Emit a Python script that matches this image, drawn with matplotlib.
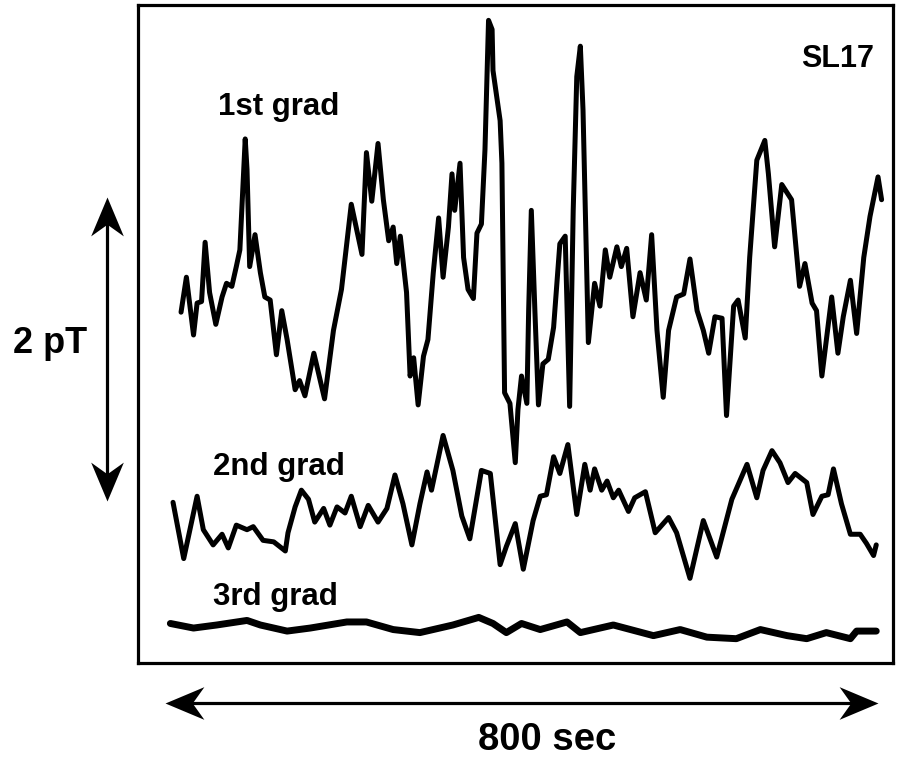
import matplotlib
matplotlib.use("Agg")
import matplotlib.pyplot as plt
from matplotlib.path import Path
from matplotlib.markers import MarkerStyle
from matplotlib.transforms import Affine2D

plt.rcParams['font.family'] = ['Liberation Sans', 'DejaVu Sans']

# ---- data: time (s) and field (pT) for the three gradiometer traces ----
t1 = [18,24,32,36,41,45,50,57,64,69,75,80,84,90,92,95,101,107,112,118,
      125,131,137,146,151,157,167,179,189,198,209,221,226,232,239,245,251,256,260,264,
      271,275,279,284,290,295,301,307,312,318,322,325,331,335,340,346,350,355,359,363,
      367,368,376,378,381,387,393,396,400,406,408,411,415,419,424,430,436,443,449,454,
      458,462,466,469,475,482,488,494,499,507,512,518,525,533,540,546,552,559,565,574,
      582,589,597,604,610,617,625,630,638,643,651,656,664,673,677,684,692,703,712,718,
      726,731,737,748,755,761,769,776,784,791,800,804]
g1 = [-0.08,0.15,-0.23,-0.02,-0.01,0.38,0.05,-0.16,0.02,0.11,
      0.09,0.22,0.33,1.06,0.86,0.22,0.43,0.18,0.02,0.00,
      -0.36,-0.07,-0.26,-0.59,-0.53,-0.63,-0.35,-0.65,-0.20,0.07,
      0.63,0.30,0.97,0.65,1.03,0.66,0.39,0.48,0.24,0.42,
      0.05,-0.50,-0.38,-0.69,-0.37,-0.26,0.18,0.54,0.15,0.48,
      0.83,0.59,0.90,0.28,0.07,0.01,0.44,0.50,0.99,1.84,
      1.78,1.51,1.18,0.90,-0.61,-0.68,-1.07,-0.72,-0.50,-0.68,
      -0.07,0.59,-0.07,-0.69,-0.42,-0.39,-0.18,0.37,0.42,-0.70,
      0.59,1.47,1.67,1.25,-0.28,0.11,-0.04,0.33,0.15,0.35,
      0.22,0.34,-0.11,0.18,0.00,0.43,-0.20,-0.64,-0.20,0.02,
      0.04,0.27,-0.07,-0.20,-0.35,-0.11,-0.12,-0.76,-0.04,0.00,
      -0.25,0.28,0.92,1.05,0.83,0.35,0.76,0.66,0.09,0.24,
      -0.02,-0.07,-0.50,0.02,-0.35,-0.11,0.13,-0.22,0.28,0.55,
      0.81,0.66]

t2 = [9,21,36,43,54,64,71,80,92,99,110,122,135,138,146,153,161,168,178,185,
      193,202,209,219,228,239,249,258,267,277,286,294,299,312,323,333,342,355,365,376,
      383,393,402,413,421,428,436,443,452,462,471,477,482,490,496,503,509,520,527,539,
      550,565,574,589,604,619,636,653,664,671,681,690,699,707,720,727,737,744,750,759,
      769,780,787,795,798]
g2 = [0.05,-0.32,0.09,-0.13,-0.23,-0.16,-0.25,-0.10,-0.13,-0.11,
      -0.20,-0.21,-0.27,-0.15,0.02,0.13,0.07,-0.08,0.01,-0.10,
      0.02,-0.02,0.09,-0.11,0.03,-0.08,0.01,0.23,0.04,-0.23,
      0.04,0.25,0.13,0.49,0.26,-0.04,-0.19,0.26,0.24,-0.36,
      -0.24,-0.09,-0.39,-0.07,0.09,0.10,0.35,0.24,0.43,-0.03,
      0.30,0.13,0.27,0.13,0.19,0.08,0.13,-0.01,0.08,0.12,
      -0.15,-0.05,-0.15,-0.45,-0.07,-0.31,0.07,0.30,0.08,0.26,
      0.39,0.31,0.18,0.24,0.18,-0.03,0.09,0.10,0.27,0.04,
      -0.16,-0.16,-0.22,-0.30,-0.23]

t3 = [6,32,58,92,107,137,163,204,226,256,286,323,352,368,383,400,421,451,466,503,
      548,578,608,641,668,698,720,742,769,776,798]
g3 = [0.03,0.00,0.02,0.05,0.02,-0.02,0.00,0.04,0.04,-0.01,
      -0.03,0.02,0.07,0.03,-0.03,0.03,-0.01,0.04,-0.03,0.02,
      -0.05,-0.01,-0.06,-0.07,-0.01,-0.05,-0.07,-0.03,-0.07,-0.02,-0.02]

labels = ["1st grad", "2nd grad", "3rd grad"]
channel = "SL17"
scale_field = 2      # pT
scale_time = 800     # s

# ---- layout ----
offsets = [2.388, 1.007, 0.230]          # vertical trace offsets (pT)
label_pos = [(59, 3.605), (54, 1.237), (54, 0.382)]

fig = plt.figure(figsize=(8.99, 7.57), dpi=100)
ax = fig.add_axes([138/899, 1 - 663/757, (893-138)/899, (663-5)/757])
ax.set_xlim(-30.3, 816.8)
ax.set_ylim(0, 4.329)
ax.set_xticks([]); ax.set_yticks([])
for s in ax.spines.values():
    s.set_linewidth(2.3)
    s.set_color('black')

for t, g, off, lw in zip([t1, t2, t3], [g1, g2, g3], offsets, [3.6, 3.6, 5.0]):
    ax.plot(t, [v + off for v in g], color='black', lw=lw,
            solid_joinstyle='round', solid_capstyle='round')

for lab, (x, y) in zip(labels, label_pos):
    ax.text(x, y, lab, fontsize=22.5, fontweight='bold', ha='left', va='baseline')
ax.text(796, 3.923, channel, fontsize=22, fontweight='bold', ha='right', va='baseline')

# arrowhead marker (tip at origin, pointing +y)
head = Path([(0, 0), (-0.42, -1.0), (0, -0.70), (0.42, -1.0), (0, 0)],
            [Path.MOVETO, Path.LINETO, Path.LINETO, Path.LINETO, Path.CLOSEPOLY])
def head_marker(angle):
    return MarkerStyle(head, transform=Affine2D().rotate_deg(angle))

# vertical scale bar (2 pT)
vx = -65.4
vy0 = 1.066
ax.plot([vx, vx], [vy0 + 0.05, vy0 + scale_field - 0.05], color='black', lw=2.3,
        solid_capstyle='butt', clip_on=False)
ax.plot([vx], [vy0 + scale_field], marker=head_marker(0), ms=56, color='black',
        mew=0, clip_on=False)
ax.plot([vx], [vy0], marker=head_marker(180), ms=56, color='black',
        mew=0, clip_on=False)
ax.text(-87.5, 2.04, f"{scale_field} pT", fontsize=26, fontweight='bold',
        ha='right', va='baseline')

# horizontal scale bar (800 s)
hy = -0.263
ax.plot([10, scale_time - 10], [hy, hy], color='black', lw=2.3,
        solid_capstyle='butt', clip_on=False)
ax.plot([0], [hy], marker=head_marker(90), ms=56, color='black', mew=0, clip_on=False)
ax.plot([scale_time], [hy], marker=head_marker(-90), ms=56, color='black', mew=0, clip_on=False)
ax.text(429, -0.572, f"{scale_time} sec", fontsize=27.5, fontweight='bold',
        ha='center', va='baseline')

fig.savefig("out.png", dpi=100)
